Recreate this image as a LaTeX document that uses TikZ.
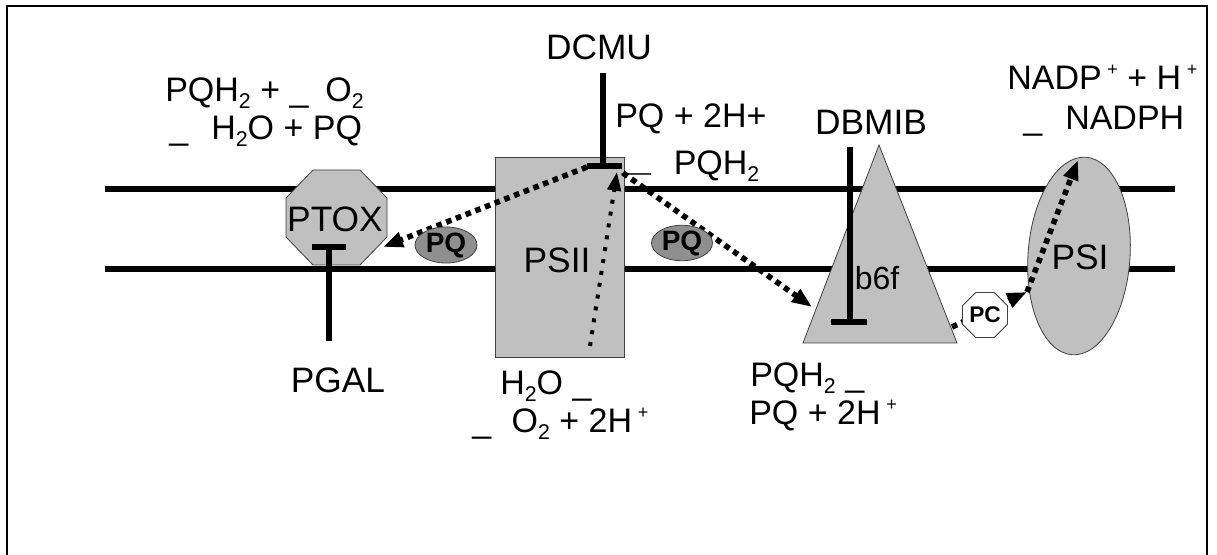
\documentclass[tikz,border=0pt]{standalone}
\usepackage{fontspec}
\setmainfont{Liberation Sans}
\usetikzlibrary{arrows.meta,shapes.geometric}
\definecolor{boxgray}{HTML}{C0C0C0}
\definecolor{pqgray}{HTML}{8F8F8F}
\definecolor{edgegray}{HTML}{404040}
\newcommand\lsub[1]{\raisebox{-0.2em}{\fontsize{16}{16}\selectfont #1}}
\newcommand\lsup[1]{\,\raisebox{0.42em}{\fontsize{13.5}{13.5}\selectfont #1}}
\begin{document}
\begin{tikzpicture}[x=0.75pt,y=-0.75pt,
  membrane/.style={line width=4.5pt},
  protein/.style={fill=boxgray,draw=edgegray,line width=0.6pt},
  blocker/.style={line width=4.3pt},
  eflow/.style={line width=4.2pt,dash pattern=on 4.2pt off 3.6pt,-{Triangle[length=15pt,width=11pt]}},
  wflow/.style={line width=3pt,dash pattern=on 3pt off 6pt,-{Triangle[length=14pt,width=10pt]}},
  lbl/.style={font=\fontsize{26.5}{30}\selectfont,inner sep=0pt,anchor=base},
  eqn/.style={font=\fontsize{25.5}{30}\selectfont,inner sep=0pt,anchor=base west},
  pqmol/.style={ellipse,fill=pqgray,draw=edgegray,line width=0.6pt,inner sep=0pt,font=\bfseries\fontsize{21}{24}\selectfont},
  pcmol/.style={regular polygon,regular polygon sides=8,minimum size=36.5pt,fill=white,draw=edgegray,line width=0.6pt,inner sep=0pt,font=\bfseries\fontsize{17}{20}\selectfont}
]
\useasboundingbox (0,0) rectangle (1217,555);
\fill[white] (0,0) rectangle (1217,555);
% frame
\draw[line width=1.4pt] (7,560) -- (7,6) -- (1207,6) -- (1207,560);
% membranes
\draw[membrane] (105,189) -- (1175,189);
\draw[membrane] (105,269) -- (1175,269);
% proteins
\draw[protein] (313,170) -- (360,170) -- (387,198) -- (387,237) -- (360,265) -- (313,265) -- (286,237) -- (286,198) -- cycle;
\draw[protein] (495,157) rectangle (624,357);
\draw[protein] (879,145) -- (957,343) -- (803,343) -- cycle;
\draw[protein,rotate around={-4:(1079,256)}] (1079,256) ellipse [x radius=51,y radius=99];
% flow end points
\coordinate (qb) at (587,167);
\coordinate (ptoxin) at (383,247);
\coordinate (wsplit) at (590,346);
\coordinate (qa) at (617,172);
\coordinate (qbout) at (623,173);
\coordinate (b6fin) at (812,307);
\coordinate (b6fout) at (952,327);
\coordinate (psiin) at (1027,292);
\coordinate (p700) at (1078,160);
% electron flow
\draw[eflow] (qb) -- (ptoxin);
\draw[wflow] (wsplit) -- (qa);
\draw[eflow] (qbout) -- (b6fin);
\draw[eflow] (b6fout) -- (psiin);
\draw[eflow] (psiin) -- (p700);
% mobile carriers
\node[pqmol,minimum width=46.5pt,minimum height=27pt] (pq1) at (446,245) {PQ};
\node[pqmol,minimum width=45.75pt,minimum height=23.5pt] (pq2) at (682,243) {PQ};
\node[pcmol] (pc) at (985,315) {PC};
% inhibitors
\draw[blocker] (603,73) -- (603,166) (587,166) -- (622,166);
\draw[blocker] (329,341) -- (329,247) (312,247) -- (346,247);
\draw[blocker] (850,147) -- (850,322) (831,322) -- (867,322);
% labels
\node[lbl] (dcmu) at (599,60) {DCMU};
\node[lbl] (ptox) at (335,232) {PTOX};
\node[lbl] (pgal) at (338,393) {PGAL};
\node[lbl] (psii) at (557,273) {PSII};
\node[lbl] (dbmib) at (871,135) {DBMIB};
\node[lbl,font=\fontsize{24}{28}\selectfont] (b6f) at (877,290) {b6f};
\node[lbl] (psi) at (1080,270) {PSI};
% reactions
\node[eqn] (r1a) at (165,102) {PQH\lsub{2} + \_\hspace{0.5em}O\lsub{2}};
\node[eqn] (r1b) at (169,140) {\_\hspace{0.68em}H\lsub{2}O + PQ};
\node[eqn] (r2a) at (615,128) {PQ + 2H+};
\node[eqn] (r2b) at (622,175) {\raisebox{0.12em}{\scalebox{1.5}[0.7]{\_}}\hspace{0.68em}PQH\lsub{2}};
\node[eqn] (r3a) at (1007,90) {NADP\lsup{+} + H\lsup{+}};
\node[eqn] (r3b) at (1023,130) {\_\hspace{0.68em}NADPH};
\node[eqn] (r4a) at (500,395) {H\lsub{2}O \_};
\node[eqn] (r4b) at (472,433) {\_\hspace{0.6em}O\lsub{2} + 2H\lsup{+}};
\node[eqn] (r5a) at (750,387) {PQH\lsub{2} \_};
\node[eqn] (r5b) at (749,425) {PQ + 2H\lsup{+}};
\end{tikzpicture}
\end{document}
